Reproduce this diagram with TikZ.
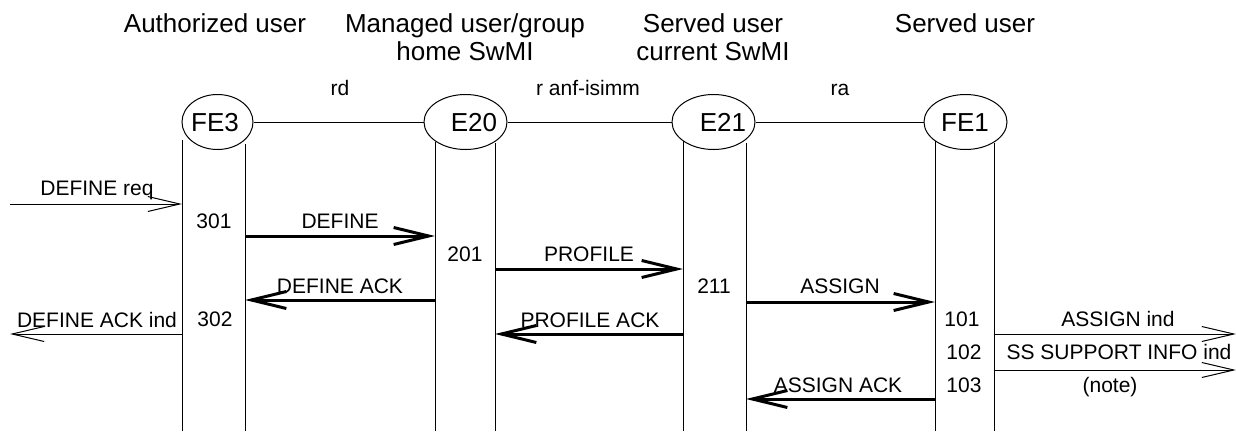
\documentclass[tikz,border=0pt]{standalone}
\usepackage{fontspec}
\setmainfont{Liberation Sans}
\usetikzlibrary{shapes.geometric,arrows.meta}
\begin{document}
\begin{tikzpicture}[x=1pt,y=-1pt,
  big/.style={font=\fontsize{26}{31}\selectfont, inner sep=0pt, anchor=base},
  lbl/.style={font=\fontsize{21}{25}\selectfont, inner sep=0pt, anchor=base},
  fe/.style={draw, ellipse, line width=1pt, minimum height=55pt, inner sep=0pt},
  life/.style={line width=1pt},
  link/.style={line width=1pt},
  msgthin/.style={line width=1pt, -{Straight Barb[length=32pt,width=15pt]}},
  msgthick/.style={line width=3pt, -{Straight Barb[length=35pt,width=17pt]}},
]
\useasboundingbox (0,0) rectangle (1236,431);

% headers
\node[big] (h1) at (215,32) {Authorized user};
\node[big] (h2a) at (465,32) {Managed user/group};
\node[big] (h2b) at (465,60) {home SwMI};
\node[big] (h3a) at (713,32) {Served user};
\node[big] (h3b) at (713,60) {current SwMI};
\node[big] (h4) at (965,32) {Served user};

% functional entities
\node[fe, minimum width=71pt] (FE3) at (217.5,122) {};
\node[fe, minimum width=83pt] (E20) at (465.5,122) {};
\node[fe, minimum width=83pt] (E21) at (713.5,122) {};
\node[fe, minimum width=83pt] (FE1) at (965.5,122) {};
\node[big] (tFE3) at (215,131) {FE3};
\node[big] (tE20) at (474,131) {E20};
\node[big] (tE21) at (723,131) {E21};
\node[big] (tFE1) at (965,131) {FE1};

\draw[link] (FE3.east) -- (E20.west);
\draw[link] (E20.east) -- (E21.west);
\draw[link] (E21.east) -- (FE1.west);
\node[lbl] (rd) at (340,95) {rd};
\node[lbl] (rai) at (588,95) {r anf-isimm};
\node[lbl] (ra) at (840,95) {ra};

% lifelines
\coordinate (bot) at (0,431);
\coordinate (FE3L) at (182,140);
\coordinate (FE3R) at (245,144);
\coordinate (E20L) at (435,142);
\coordinate (E20R) at (495,143);
\coordinate (E21L) at (683,141);
\coordinate (E21R) at (746,143);
\coordinate (FE1L) at (935,141);
\coordinate (FE1R) at (994,143);
\foreach \c in {FE3L,FE3R,E20L,E20R,E21L,E21R,FE1L,FE1R}
  \draw[life] (\c) -- (\c |- bot);

% message rows
\coordinate (y1) at (10,204);
\coordinate (y2) at (0,236);
\coordinate (y3) at (0,269);
\coordinate (y4) at (0,300);
\coordinate (y5) at (0,302);
\coordinate (y6) at (10,334);
\coordinate (y7) at (0,334);
\coordinate (y8) at (1236,334);
\coordinate (y9) at (1236,370);
\coordinate (y10) at (0,399);

\draw[msgthin] (y1) -- (FE3L |- y1);
\draw[msgthick] (FE3R |- y2) -- (E20L |- y2);
\draw[msgthick] (E20R |- y3) -- (E21L |- y3);
\draw[msgthick] (E20L |- y4) -- (FE3R |- y4);
\draw[msgthick] (E21R |- y5) -- (FE1L |- y5);
\draw[msgthin] (FE3L |- y6) -- (y6);
\draw[msgthick] (E21L |- y7) -- (E20R |- y7);
\draw[msgthin] (FE1R |- y8) -- (y8);
\draw[msgthin] (FE1R |- y9) -- (y9);
\draw[msgthick] (FE1L |- y10) -- (E21R |- y10);

% message labels
\node[lbl] (l1) at (97,195) {DEFINE req};
\node[lbl] (l2) at (340,228) {DEFINE};
\node[lbl] (l3) at (589,261) {PROFILE};
\node[lbl] (l4) at (340,293) {DEFINE ACK};
\node[lbl] (l5) at (840,293) {ASSIGN};
\node[lbl] (l6) at (97,327) {DEFINE ACK ind};
\node[lbl] (l7) at (590,327) {PROFILE ACK};
\node[lbl] (l8) at (1118,326) {ASSIGN ind};
\node[lbl] (l9) at (1119,359) {SS SUPPORT INFO ind};
\node[lbl] (l10) at (1110,392) {(note)};
\node[lbl] (l11) at (838,392) {ASSIGN ACK};

% state numbers
\node[lbl] (n301) at (214,228) {301};
\node[lbl] (n302) at (215,326) {302};
\node[lbl] (n201) at (465,261) {201};
\node[lbl] (n211) at (714,293) {211};
\node[lbl] (n101) at (962,326) {101};
\node[lbl] (n102) at (964,359) {102};
\node[lbl] (n103) at (964,392) {103};
\end{tikzpicture}
\end{document}
